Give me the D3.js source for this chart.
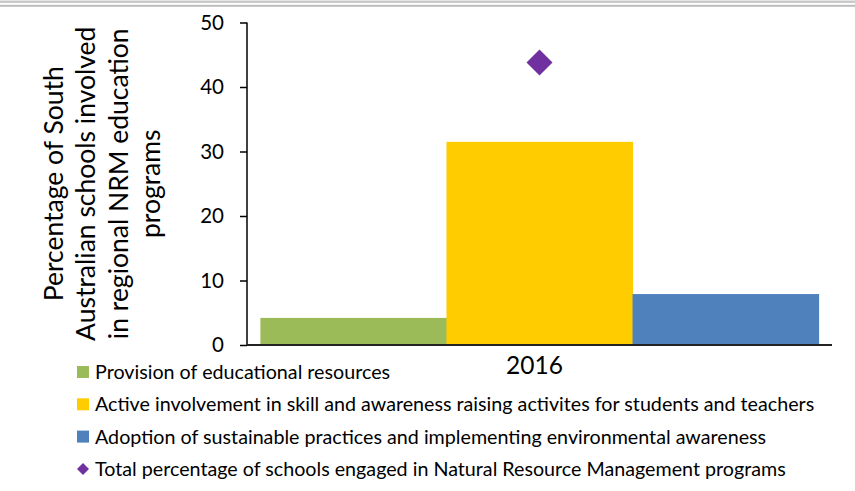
<!DOCTYPE html>
<html>
<head>
<meta charset="utf-8">
<script src="https://cdn.jsdelivr.net/npm/d3@7"></script>
<style>
  body { margin: 0; background: #fff; }
  svg { font-family: Lato, "Open Sans", sans-serif; }
</style>
</head>
<body>
<div id="chart"></div>
<script>
var years = ["2016"];
var seriesNames = [
  "Provision of educational resources",
  "Active involvement in skill and awareness raising activites for students and teachers",
  "Adoption of sustainable practices and implementing environmental awareness"
];
var seriesValues = [4.2, 31.5, 7.9];
var seriesColors = ["#9bbb59", "#ffcc00", "#4f81bd"];
var totalName = "Total percentage of schools engaged in Natural Resource Management programs";
var totalValues = [43.8];
var totalColor = "#7030a0";
var yTicks = [0, 10, 20, 30, 40, 50];

var width = 855, height = 491;
var svg = d3.select("#chart").append("svg")
  .attr("width", width)
  .attr("height", height);

// top rule lines
svg.append("rect").attr("x", 0).attr("y", 0.5).attr("width", width).attr("height", 2.5).attr("fill", "#c9c9c9");
svg.append("rect").attr("x", 0).attr("y", 4.8).attr("width", width).attr("height", 2).attr("fill", "#bdbdbd");

var plot = { left: 247, right: 832, top: 22.5, bottom: 345 };

var x = d3.scaleBand().domain(years).range([plot.left, plot.right]).paddingOuter(0.024).paddingInner(0);
var xs = d3.scaleBand().domain(d3.range(seriesNames.length)).range([0, x.bandwidth()]);
var y = d3.scaleLinear().domain([0, 50]).range([plot.bottom, plot.top]);

// bars
years.forEach(function (yr) {
  svg.selectAll(".bar")
    .data(seriesValues)
    .enter()
    .append("rect")
    .attr("class", "bar")
    .attr("x", function (d, i) { return x(yr) + xs(i); })
    .attr("y", function (d) { return y(d); })
    .attr("width", xs.bandwidth() + 0.5)
    .attr("height", function (d) { return y(0) - y(d); })
    .attr("fill", function (d, i) { return seriesColors[i]; });
});

// total marker (diamond)
svg.selectAll(".total")
  .data(totalValues)
  .enter()
  .append("path")
  .attr("class", "total")
  .attr("d", d3.symbol().type(d3.symbolDiamond2).size(430))
  .attr("transform", function (d, i) {
    return "translate(" + (x(years[i]) + x.bandwidth() / 2) + "," + y(d) + ")";
  })
  .attr("fill", totalColor);

// y axis
var yAxis = svg.append("g")
  .attr("transform", "translate(" + plot.left + ",0)")
  .call(d3.axisLeft(y).tickValues(yTicks).tickSize(7).tickPadding(16));
yAxis.select(".domain").attr("stroke", "#000").attr("stroke-width", 1.5).attr("d", "M0," + plot.top + "V" + plot.bottom);
yAxis.selectAll(".tick line").attr("stroke", "#000").attr("stroke-width", 1.5);
yAxis.selectAll(".tick text").attr("font-size", 20.5).attr("fill", "#000").attr("font-family", "Lato, sans-serif");

// x axis
var xAxis = svg.append("g")
  .attr("transform", "translate(0," + plot.bottom + ")")
  .call(d3.axisBottom(x).tickSize(0).tickPadding(12));
xAxis.select(".domain").attr("stroke", "#222").attr("stroke-width", 1.8).attr("d", "M" + plot.left + ",0H" + plot.right);
xAxis.selectAll(".tick text").attr("font-size", 24.5).attr("dx", -5).attr("fill", "#000").attr("font-family", "Lato, sans-serif");

// y title
var titleLines = ["Percentage of South", "Australian schools involved", "in regional NRM education", "programs"];
var yMid = (plot.top + plot.bottom) / 2;
svg.append("g")
  .selectAll("text")
  .data(titleLines)
  .enter()
  .append("text")
  .attr("transform", function (d, i) { return "translate(" + (63 + i * 32.3) + "," + yMid + ") rotate(-90)"; })
  .attr("text-anchor", "middle")
  .attr("font-size", 26.5)
  .attr("fill", "#000")
  .text(function (d) { return d; });

// legend
var legendItems = seriesNames.map(function (n, i) { return { name: n, color: seriesColors[i], type: "square" }; });
legendItems.push({ name: totalName, color: totalColor, type: "diamond" });

var legend = svg.append("g").selectAll("g")
  .data(legendItems)
  .enter()
  .append("g")
  .attr("transform", function (d, i) { return "translate(0," + (372 + i * 32.3) + ")"; });

legend.filter(function (d) { return d.type === "square"; })
  .append("rect")
  .attr("x", 77).attr("y", -6).attr("width", 12).attr("height", 12)
  .attr("fill", function (d) { return d.color; });

legend.filter(function (d) { return d.type === "diamond"; })
  .append("path")
  .attr("d", d3.symbol().type(d3.symbolDiamond2).size(92))
  .attr("transform", "translate(83,0)")
  .attr("fill", function (d) { return d.color; });

legend.append("text")
  .attr("x", 95)
  .attr("dy", "0.35em")
  .attr("font-size", 19.7)
  .attr("fill", "#000")
  .text(function (d) { return d.name; });
</script>
</body>
</html>
